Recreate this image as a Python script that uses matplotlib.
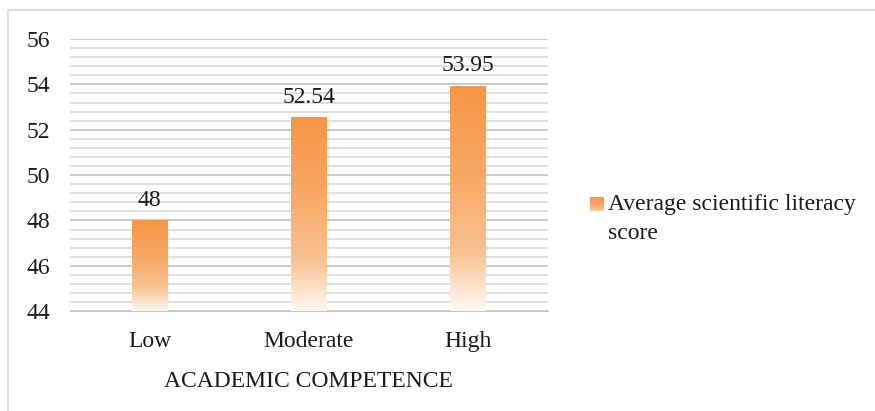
import numpy as np
import matplotlib

matplotlib.use("Agg")
import matplotlib.pyplot as plt
from matplotlib.colors import LinearSegmentedColormap
from matplotlib.patches import Rectangle

categories = ["Low", "Moderate", "High"]
scores = [48, 52.54, 53.95]
value_labels = ["48", "52.54", "53.95"]
series_name = "Average scientific literacy\nscore"

plt.rcParams["font.family"] = ["Liberation Serif", "DejaVu Serif"]

ORANGE = "#F79646"
TEXT = "#1A1A1A"
FS = 17
# bottom of the bar -> top of the bar
fade = LinearSegmentedColormap.from_list(
    "fade",
    [(0.0, "#FFF9F4"), (0.12, "#FCE0C6"), (0.25, "#F9C394"), (0.6, "#F7A864"), (1.0, ORANGE)],
)

fig = plt.figure(figsize=(8.75, 4.11), dpi=100)
fig.patches.append(Rectangle((0.009, -0.01), 1.2, 0.985, transform=fig.transFigure,
                             fill=False, edgecolor="#D9D9D9", linewidth=1.3))
ax = fig.add_axes([0.080, 0.243, 0.546, 0.662])

ymin, ymax = 44, 56
x = np.arange(len(categories))
bars = ax.bar(x, scores, width=0.225, color="none", zorder=3)
ax.set_ylim(ymin, ymax)
ax.set_xlim(-0.5, len(categories) - 0.5)

# vertical gradient clipped to each bar
grad = np.linspace(0, 1, 256).reshape(-1, 1)
for bar, top in zip(bars, scores):
    x0 = bar.get_x()
    x1 = x0 + bar.get_width()
    im = ax.imshow(grad, cmap=fade, vmin=0, vmax=1, origin="lower",
                   extent=[x0, x1, ymin, top], aspect="auto", zorder=3)
    im.set_clip_path(bar)

for xi, top, lab in zip(x, scores, value_labels):
    ax.text(xi, top + 0.42, lab, ha="center", va="bottom", fontsize=FS, color=TEXT)

ax.set_yticks(np.arange(44, 57, 2))
ax.set_yticks(np.arange(44, 56.01, 0.4), minor=True)
ax.grid(True, which="major", axis="y", color="#C4C4C4", linewidth=1.2, zorder=0)
ax.grid(True, which="minor", axis="y", color="#D6D6D6", linewidth=1.1, zorder=0)
ax.set_xticks(x)
ax.set_xticklabels(categories)
ax.tick_params(axis="both", which="both", length=0, labelsize=FS, colors=TEXT)
ax.tick_params(axis="y", pad=14)
ax.tick_params(axis="x", pad=14)
for side in ["top", "right", "left"]:
    ax.spines[side].set_visible(False)
ax.spines["bottom"].set_color("#C4C4C4")
ax.set_xlabel("ACADEMIC COMPETENCE", fontsize=FS, color=TEXT, labelpad=14)

# legend entry
lx, ly = 0.674, 0.487
sw = fig.add_axes([lx, ly, 0.015, 0.034])
sw.imshow(grad, cmap=fade, vmin=0, vmax=1, origin="lower", aspect="auto",
          extent=[0, 1, -0.25, 1])
sw.set_xlim(0, 1)
sw.set_ylim(0, 1)
sw.axis("off")
fig.text(lx + 0.021, ly + 0.04, series_name, ha="left", va="top", fontsize=FS,
         color=TEXT, linespacing=1.5)

fig.savefig("out.png", dpi=100)
